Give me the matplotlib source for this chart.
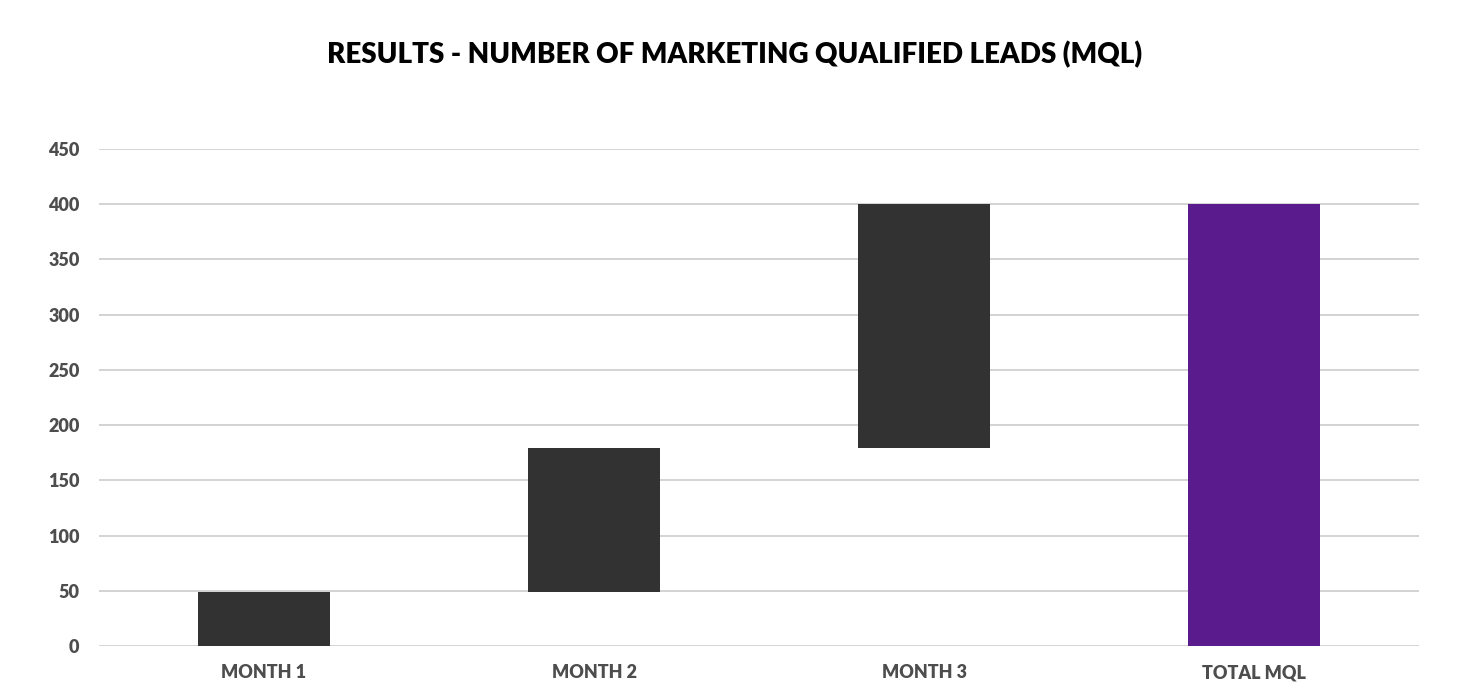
import numpy as np
import matplotlib
matplotlib.use("Agg")
import matplotlib.pyplot as plt

plt.rcParams['font.family'] = ['Lato', 'DejaVu Sans']

# monthly MQL increments and total
categories = ['MONTH 1', 'MONTH 2', 'MONTH 3', 'TOTAL MQL']
monthly = [49, 130, 221]
total = sum(monthly)

bottoms = list(np.concatenate([[0], np.cumsum(monthly)[:-1]])) + [0]
heights = monthly + [total]
colors = ['#323232'] * len(monthly) + ['#5A1C8D']

fig = plt.figure(figsize=(14.7, 6.96), dpi=100)
ax = fig.add_axes([99 / 1470, 1 - 646 / 696, 1320 / 1470, 497 / 696])

x = np.arange(len(categories))
ax.bar(x, heights, bottom=bottoms, width=0.4, color=colors, zorder=3)

ax.set_xlim(-0.5, len(categories) - 0.5)
ax.set_ylim(0, 450)
ax.set_yticks(range(0, 451, 50))
ax.set_xticks(x)
ax.set_xticklabels(categories)
ax.grid(axis='y', color='#d0d0d0', linewidth=1.3, zorder=0)
for s in ax.spines.values():
    s.set_visible(False)
ax.tick_params(length=0, labelsize=13, labelcolor='#4d4d4d')
ax.tick_params(axis='y', pad=14)
ax.tick_params(axis='x', pad=13)
for lab in ax.get_xticklabels() + ax.get_yticklabels():
    lab.set_fontweight('heavy')

fig.text(0.5, 1 - 55 / 696, 'RESULTS - NUMBER OF MARKETING QUALIFIED LEADS (MQL)',
         ha='center', va='center', fontsize=20, fontweight='heavy', color='black')

fig.savefig('out.png', dpi=100)
